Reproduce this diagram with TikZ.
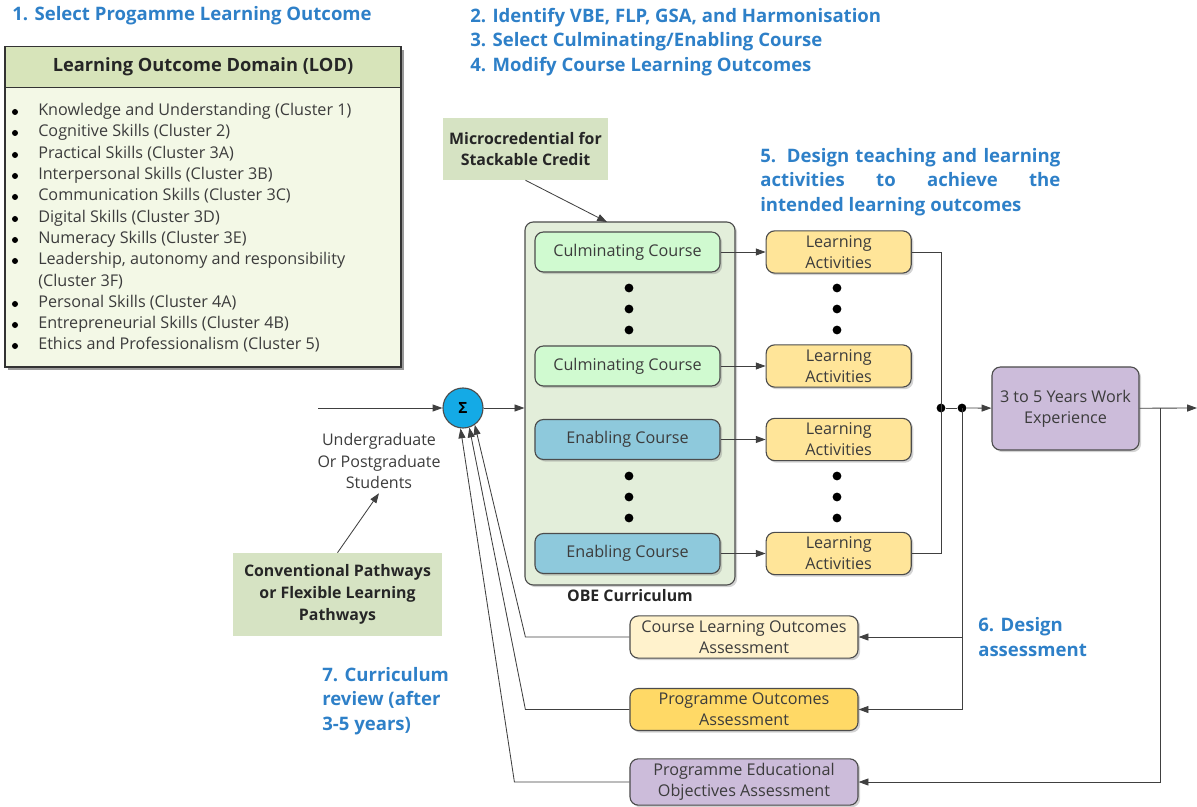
\documentclass[tikz,border=0pt]{standalone}
\usepackage{fontspec}
\setmainfont{Open Sans}
\usetikzlibrary{arrows.meta, positioning, shadows}

\definecolor{stepblue}{RGB}{46,128,200}
\definecolor{inktext}{RGB}{60,60,60}
\definecolor{lodhead}{RGB}{215,228,186}
\definecolor{lodbody}{RGB}{243,248,230}
\definecolor{notecol}{RGB}{214,227,195}
\definecolor{obecol}{RGB}{227,238,218}
\definecolor{culmcol}{RGB}{208,250,208}
\definecolor{enabcol}{RGB}{142,201,220}
\definecolor{lacol}{RGB}{255,229,153}
\definecolor{purplecol}{RGB}{204,188,218}
\definecolor{clocol}{RGB}{255,242,204}
\definecolor{pocol}{RGB}{255,217,102}
\definecolor{sigcol}{RGB}{20,170,230}

\tikzset{
    heading/.style={font=\bfseries\fontsize{13.2}{17.4}\selectfont, text=stepblue, inner sep=0pt, align=left},
    box/.style={rectangle, rounded corners=6pt, draw=black!70, line width=0.8pt, align=center, text=inktext, font=\fontsize{11.5}{14.8}\selectfont, drop shadow={opacity=0.35, shadow xshift=1.5pt, shadow yshift=-1.5pt}},
    course/.style={box, minimum width=4.625cm, minimum height=1cm},
    activity/.style={box, fill=lacol, minimum width=3.625cm, minimum height=1.025cm},
    assess/.style={box, minimum width=5.7cm, minimum height=1.05cm},
    note/.style={rectangle, fill=notecol, align=center, text=black!85, font=\bfseries\fontsize{11.3}{15.4}\selectfont},
    loditem/.style={anchor=west, inner sep=0pt, text=inktext, text height=8pt, text depth=2.5pt, font=\fontsize{11.5}{15}\selectfont},
    lodbullet/.style={circle, fill=black, inner sep=0pt, minimum size=0.15cm},
    dot/.style={circle, fill=black, inner sep=0pt, minimum size=0.22cm},
    link/.style={draw=black!75, line width=0.6pt},
    arrow/.style={link, -{Triangle[length=7pt, width=5pt]}}
}

\begin{document}
\begin{tikzpicture}[x=0.025cm, y=-0.025cm]
    \useasboundingbox (0,0) rectangle (1197,807);

    % Step headings
    \node[heading, anchor=west] (step1) at (12,16) {1. Select Progamme Learning Outcome};
    \node[heading, anchor=west] (step234) at (470,42) {2. Identify VBE, FLP, GSA, and Harmonisation\\3. Select Culminating/Enabling Course\\4. Modify Course Learning Outcomes};
    \node[heading, anchor=west] (step5) at (760,182) {\makebox[7.5cm][s]{5. Design teaching and learning}\\\makebox[7.5cm][s]{activities to achieve the}\\intended learning outcomes};
    \node[heading, anchor=west] (step6) at (978,637) {6. Design\\assessment};
    \node[heading, anchor=west] (step7) at (322,701) {7. Curriculum\\review (after\\3-5 years)};

    % Learning outcome domain
    \node[rectangle, draw=black!80, line width=2pt, fill=lodbody, minimum width=9.9cm, minimum height=8cm, general shadow={fill=black, opacity=0.4, shadow xshift=2pt, shadow yshift=-2pt}] (lod) at (203,207) {};
    \node[rectangle, draw=black!80, line width=1.2pt, fill=lodhead, minimum width=9.9cm, minimum height=1.025cm, anchor=north, font=\bfseries\fontsize{13}{14}\selectfont, text=black!85] (lodtitle) at (lod.north) {Learning Outcome Domain (LOD)};
    \foreach \y/\t in {112/Knowledge and Understanding (Cluster 1), 133/Cognitive Skills (Cluster 2), 155/Practical Skills (Cluster 3A), 176/Interpersonal Skills (Cluster 3B), 197/Communication Skills (Cluster 3C), 219/Digital Skills (Cluster 3D), 240/Numeracy Skills (Cluster 3E), 261/{Leadership, autonomy and responsibility}, 304/Personal Skills (Cluster 4A), 325/Entrepreneurial Skills (Cluster 4B), 346/Ethics and Professionalism (Cluster 5)}
    {
        \node[lodbullet] (bul\y) at (15,\y) {};
        \node[loditem] (item\y) at (38,\y) {\t};
    }
    \node[loditem] (item283) at (38,283) {(Cluster 3F)};

    % Notes
    \node[note, minimum width=4.125cm, minimum height=1.55cm] (micro) at (525.5,149) {Microcredential for\\Stackable Credit};
    \node[note, minimum width=5.225cm, minimum height=2.075cm] (conv) at (337.5,594.5) {Conventional Pathways\\or Flexible Learning\\Pathways};
    \node[align=center, text=inktext, font=\fontsize{11.4}{15}\selectfont] (students) at (379,461) {Undergraduate\\Or Postgraduate\\Students};

    % OBE curriculum
    \node[box, fill=obecol, minimum width=5.25cm, minimum height=9.075cm] (obe) at (630,403.5) {};
    \node[inner sep=0pt, below=0.08cm of obe, font=\bfseries\fontsize{11.3}{14}\selectfont, text=black!85] (obelabel) {OBE Curriculum};
    \node[course, fill=culmcol] (c1) at (627.5,252) {Culminating Course};
    \node[course, fill=culmcol] (c2) at (627.5,366) {Culminating Course};
    \node[course, fill=enabcol] (c3) at (627.5,439.5) {Enabling Course};
    \node[course, fill=enabcol] (c4) at (627.5,553.5) {Enabling Course};

    % Learning activities
    \foreach \i in {1,...,4}
        \node[activity, right=1.125cm of c\i] (a\i) {Learning\\Activities};
    \foreach \y in {288,309,330,476,497,518}
    {
        \node[dot] (cdot\y) at (629,\y) {};
        \node[dot] (adot\y) at (837,\y) {};
    }

    % Summing point
    \node[circle, draw=black!70, line width=0.8pt, fill=sigcol, minimum size=1cm, inner sep=0pt, font=\bfseries\fontsize{11}{11}\selectfont] (sig) at (463,408) {Σ};
    \node[box, fill=purplecol, minimum width=3.675cm, minimum height=2.075cm] (work) at (1065.5,408.5) {3 to 5 Years Work\\Experience};

    % Assessments
    \node[assess, fill=clocol] (clo) at (744,637) {Course Learning Outcomes\\Assessment};
    \node[assess, fill=pocol] (po) at (744,709.5) {Programme Outcomes\\Assessment};
    \node[assess, fill=purplecol] (peo) at (744,782) {Programme Educational\\Objectives Assessment};

    % Links
    \coordinate (in) at (318,408);
    \coordinate (out) at (1197,408);
    \coordinate (mc) at (607,222);
    \coordinate (br) at (1160,408);
    \node[dot] (j1) at (941,408) {};
    \node[dot] (j2) at (962,408) {};

    \draw[arrow] (in) -- (sig);
    \draw[arrow] (sig) -- (sig -| obe.west);
    \draw[arrow] (micro.south) -- (mc);
    \draw[arrow] (conv.north) -- (students.south);
    \foreach \i in {1,...,4}
        \draw[arrow] (c\i) -- (a\i);
    \draw[link] (a1.east) -| (j1.center) |- (a4.east);
    \draw[link] (j1) -- (j2);
    \draw[arrow] (j2) -- (work);
    \draw[arrow] (work) -- (out);
    \draw[arrow] (j2.center) |- (po.east);
    \draw[arrow] (j2.center |- clo.east) -- (clo.east);
    \draw[arrow] (br) |- (peo.east);

    % Feedback to summing point
    \draw[arrow] (clo.west) -- ++(-104,0) -- (sig.-55);
    \draw[arrow] (po.west) -- ++(-104,0) -- (sig.-72);
    \draw[arrow] (peo.west) -- ++(-115,0) -- (sig.-97);
\end{tikzpicture}
\end{document}
